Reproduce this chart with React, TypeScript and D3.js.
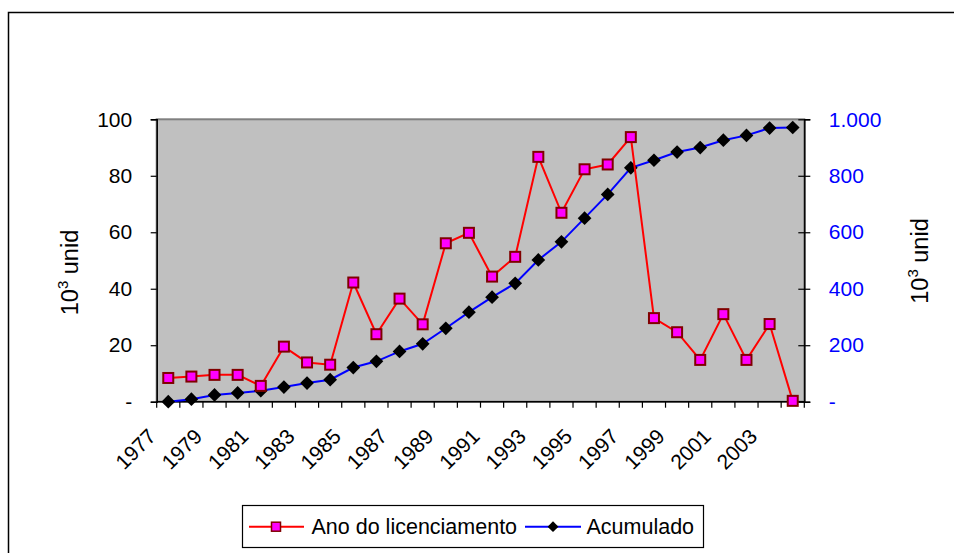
import { useEffect, useRef } from 'react'
import * as d3 from 'd3'

const years = [
  1977, 1978, 1979, 1980, 1981, 1982, 1983, 1984, 1985, 1986, 1987, 1988, 1989, 1990,
  1991, 1992, 1993, 1994, 1995, 1996, 1997, 1998, 1999, 2000, 2001, 2002, 2003, 2004,
]
// 10^3 unid per year (left axis)
const annual = [
  8.4, 8.9, 9.5, 9.5, 5.6, 19.5, 13.9, 13.1, 42.2, 23.9, 36.5, 27.4, 56.1, 59.8,
  44.3, 51.3, 86.7, 66.9, 82.3, 84.0, 93.7, 29.6, 24.6, 14.8, 31.0, 14.8, 27.5, 0.3,
]
// accumulated 10^3 unid (right axis)
const cumulative = [
  0, 9, 24, 31, 39, 52, 66, 78, 121, 143, 178, 205, 260, 317,
  370, 419, 502, 566, 650, 734, 828, 855, 884, 900, 926, 943, 969, 971,
]
const leftTicks = [0, 20, 40, 60, 80, 100]
const rightTicks = [0, 200, 400, 600, 800, 1000]
const seriesNames = ['Ano do licenciamento', 'Acumulado']

const FONT = '"Liberation Sans", Arial, sans-serif'
const ptBR = d3.formatLocale({ decimal: ',', thousands: '.', grouping: [3], currency: ['R$', ''] })
const fmtRight = ptBR.format(',d')

export default function App() {
  const ref = useRef<SVGSVGElement>(null)

  useEffect(() => {
    document.body.style.margin = '0'
    document.body.style.overflow = 'hidden'

    const svg = d3.select(ref.current)
    svg.selectAll('*').remove()

    const plot = { left: 156.7, right: 804.3, top: 119.3, bottom: 401.7 }

    const x = d3.scaleBand<number>().domain(years).range([plot.left, plot.right])
    const cx = (d: number) => (x(d) as number) + x.bandwidth() / 2
    const yL = d3.scaleLinear().domain([0, 100]).range([plot.bottom, plot.top])
    const yR = d3.scaleLinear().domain([0, 1000]).range([plot.bottom, plot.top])

    // outer chart frame (runs off the right and bottom edges)
    svg.append('rect')
      .attr('x', 8.5).attr('y', 12.5)
      .attr('width', 1000).attr('height', 600)
      .attr('fill', '#fff')
      .attr('stroke', '#000').attr('stroke-width', 1.5)

    // plot area
    svg.append('rect')
      .attr('x', plot.left).attr('y', plot.top)
      .attr('width', plot.right - plot.left).attr('height', plot.bottom - plot.top)
      .attr('fill', '#c0c0c0')
      .attr('stroke', '#808080').attr('stroke-width', 2)

    // left axis
    const gL = svg.append('g')
      .attr('transform', `translate(${plot.left},0)`)
      .call(d3.axisLeft(yL).tickValues(leftTicks).tickSize(6).tickPadding(18.5)
        .tickFormat(d => (+d === 0 ? '-' : String(d))))
    gL.select('.domain').attr('stroke', '#000').attr('stroke-width', 1.5)
    gL.selectAll('.tick line').attr('stroke', '#000').attr('stroke-width', 1.2)
    gL.selectAll('text').style('font-family', FONT).style('font-size', '21px').style('fill', '#000')

    // right axis, ticks crossing the axis line
    const gR = svg.append('g')
      .attr('transform', `translate(${plot.right},0)`)
      .call(d3.axisRight(yR).tickValues(rightTicks).tickSize(6).tickPadding(18.5)
        .tickFormat(d => (+d === 0 ? '-' : fmtRight(+d))))
    gR.select('.domain').attr('stroke', '#000').attr('stroke-width', 1.5)
    gR.selectAll('.tick line').attr('x1', -6).attr('stroke', '#000').attr('stroke-width', 1.2)
    gR.selectAll('text').style('font-family', FONT).style('font-size', '21px').style('fill', '#0000ff')

    // bottom axis: ticks between categories
    const bounds = [...years.map(d => x(d) as number), plot.right]
    svg.append('line')
      .attr('x1', plot.left).attr('x2', plot.right)
      .attr('y1', plot.bottom).attr('y2', plot.bottom)
      .attr('stroke', '#000').attr('stroke-width', 1.5)
    svg.selectAll('.xtick')
      .data(bounds)
      .join('line')
      .attr('class', 'xtick')
      .attr('x1', d => d).attr('x2', d => d)
      .attr('y1', plot.bottom).attr('y2', plot.bottom + 6)
      .attr('stroke', '#000').attr('stroke-width', 1.2)

    svg.selectAll('.xlabel')
      .data(years.filter((_, i) => i % 2 === 0))
      .join('text')
      .attr('class', 'xlabel')
      .attr('transform', d => `translate(${cx(d) - 11},${plot.bottom + 36}) rotate(-45)`)
      .attr('text-anchor', 'end')
      .style('font-family', FONT).style('font-size', '21px').style('fill', '#000')
      .text(d => d)

    // axis titles
    const title = (tx: number, ty: number) => {
      const t = svg.append('text')
        .attr('transform', `translate(${tx},${ty}) rotate(-90)`)
        .attr('text-anchor', 'middle')
        .style('font-family', FONT).style('font-size', '23.5px').style('fill', '#000')
      t.append('tspan').text('10')
      t.append('tspan').attr('dy', -10).style('font-size', '15px').text('3')
      t.append('tspan').attr('dy', 10).text(' unid')
    }
    title(77.5, 272.5)
    title(928, 261)

    // cumulative line (right axis)
    const lineR = d3.line<number>().x((_, i) => cx(years[i])).y(d => yR(d))
    svg.append('path')
      .attr('d', lineR(cumulative))
      .attr('fill', 'none').attr('stroke', '#0000ff').attr('stroke-width', 2)

    const diamond = d3.symbol().type(d3.symbolDiamond2).size(120)
    svg.selectAll('.cum')
      .data(cumulative)
      .join('path')
      .attr('class', 'cum')
      .attr('d', diamond)
      .attr('transform', (d, i) => `translate(${cx(years[i])},${yR(d)})`)
      .attr('fill', '#000')

    // annual line (left axis)
    const lineL = d3.line<number>().x((_, i) => cx(years[i])).y(d => yL(d))
    svg.append('path')
      .attr('d', lineL(annual))
      .attr('fill', 'none').attr('stroke', '#ff0000').attr('stroke-width', 2)

    svg.selectAll('.ann')
      .data(annual)
      .join('rect')
      .attr('class', 'ann')
      .attr('x', (d, i) => cx(years[i]) - 5)
      .attr('y', d => yL(d) - 5)
      .attr('width', 10).attr('height', 10)
      .attr('fill', '#ff00ff')
      .attr('stroke', '#800000').attr('stroke-width', 2)

    // legend
    const ly = 526.7
    const legend = svg.append('g')
    legend.append('rect')
      .attr('x', 242.5).attr('y', 505.5).attr('width', 461).attr('height', 42)
      .attr('fill', '#fff').attr('stroke', '#000').attr('stroke-width', 1.2)

    legend.append('line').attr('x1', 249).attr('x2', 304).attr('y1', ly).attr('y2', ly)
      .attr('stroke', '#ff0000').attr('stroke-width', 2)
    legend.append('rect').attr('x', 271.5).attr('y', ly - 4.5).attr('width', 9).attr('height', 9)
      .attr('fill', '#ff00ff').attr('stroke', '#800000').attr('stroke-width', 1.5)
    legend.append('text').attr('x', 311.5).attr('y', ly).attr('dy', '0.36em')
      .style('font-family', FONT).style('font-size', '21.5px').text(seriesNames[0])

    legend.append('line').attr('x1', 525).attr('x2', 581).attr('y1', ly).attr('y2', ly)
      .attr('stroke', '#0000ff').attr('stroke-width', 2)
    legend.append('path').attr('d', d3.symbol().type(d3.symbolDiamond2).size(75)())
      .attr('transform', `translate(553,${ly})`).attr('fill', '#000')
    legend.append('text').attr('x', 586.5).attr('y', ly).attr('dy', '0.36em')
      .style('font-family', FONT).style('font-size', '21.5px').text(seriesNames[1])
  }, [])

  return (
    <svg
      ref={ref}
      width={954}
      height={553}
      style={{ position: 'absolute', left: 0, top: 0, display: 'block', background: '#fff' }}
    />
  )
}
